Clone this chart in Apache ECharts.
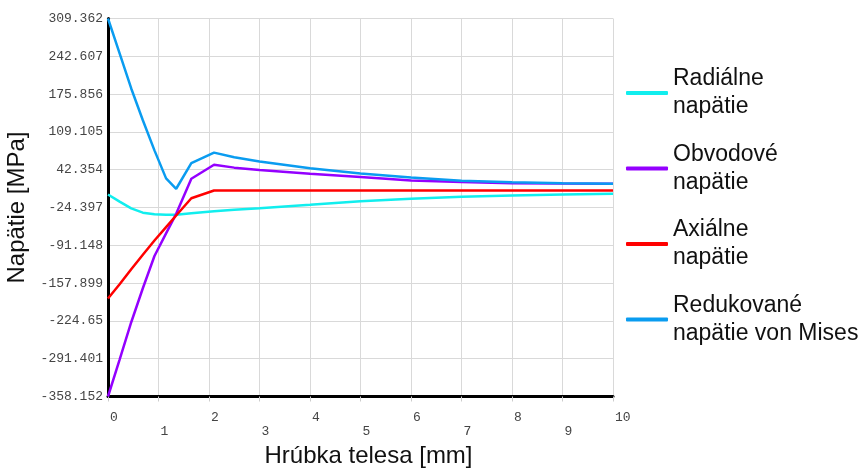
<!DOCTYPE html>
<html>
<head>
<meta charset="utf-8">
<script src="https://cdn.jsdelivr.net/npm/echarts@6/dist/echarts.min.js"></script>
<style>html,body{margin:0;padding:0;background:#fff;}#c{width:865px;height:468px;}</style>
</head>
<body>
<div id="c"></div>
<script>
var xs = [0, 0.23, 0.46, 0.69, 0.92, 1.15, 1.35, 1.65, 2.1, 2.5, 3, 4, 5, 6, 7, 8, 9, 10];
var radial = [-1.4, -14, -26, -33.5, -36.5, -37.3, -37.3, -34.5, -31, -28.5, -25.6, -19.6, -13.2, -8.8, -5.6, -3.4, -1.5, 0];
var hoop = [-358.152, -293, -227, -167, -110, -70, -35.6, 26.4, 51, 46, 42, 35, 29.3, 23.5, 20.5, 18.6, 18, 17.6];
var axial = [-185, -160, -133.5, -107.9, -82.7, -59.1, -38.6, -8, 5.7, 5.7, 5.7, 5.7, 5.7, 5.7, 5.7, 5.7, 5.7, 5.7];
var mises = [309.362, 247.8, 185.8, 129.7, 76.5, 27, 8.7, 54, 72.5, 64.5, 57, 45, 35.5, 28.5, 23, 20, 18.5, 17.6];
var yTicks = [-358.152, -291.401, -224.65, -157.899, -91.148, -24.397, 42.354, 109.105, 175.856, 242.607, 309.362];
var names = ['Radiálne napätie', 'Obvodové napätie', 'Axiálne napätie', 'Redukované napätie von Mises'];
var legendLabels = ['Radiálne\nnapätie', 'Obvodové\nnapätie', 'Axiálne\nnapätie', 'Redukované\nnapätie von Mises'];
var colors = ['#11eeee', '#9400ff', '#ff0000', '#0a9cf0'];
var xTitle = 'Hrúbka telesa [mm]';
var yTitle = 'Napätie [MPa]';

function pairs(ys) { return xs.map(function (x, i) { return [x, ys[i]]; }); }
var seriesData = [radial, hoop, axial, mises];

var chart = echarts.init(document.getElementById('c'));
chart.setOption({
  animation: false,
  backgroundColor: '#fff',
  grid: { left: 108, right: 252, top: 18.5, bottom: 71.5, containLabel: false, outerBoundsMode: 'none' },
  legend: {
    orient: 'vertical', left: 621, top: 60,
    itemWidth: 42, itemHeight: 4, itemGap: 19.5,
    icon: 'roundRect',
    data: names,
    formatter: function (n) { return legendLabels[names.indexOf(n)]; },
    textStyle: { fontFamily: 'Liberation Sans, Arial, sans-serif', fontSize: 23, lineHeight: 28, color: '#111' }
  },
  xAxis: {
    type: 'value', min: 0, max: 10, interval: 1,
    name: xTitle, nameLocation: 'middle', nameGap: 48,
    nameTextStyle: { fontFamily: 'Liberation Sans, Arial, sans-serif', fontSize: 24, color: '#111', padding: [0, 0, 0, 16] },
    axisLine: { show: true, onZero: false, lineStyle: { color: '#000', width: 3 } },
    axisTick: { show: true, length: 5, lineStyle: { color: '#ccc' } },
    splitLine: { show: true, lineStyle: { color: '#d9d9d9', width: 1 } },
    axisLabel: {
      align: 'left', margin: 14, showMaxLabel: true, showMinLabel: true,
      fontFamily: 'Liberation Mono, monospace', fontSize: 13, lineHeight: 14, color: '#444',
      padding: [0, 0, 0, 2],
      formatter: function (v) { return (Math.round(v) % 2 === 1) ? '\n' + v : String(v); }
    }
  },
  yAxis: {
    type: 'value', min: yTicks[0], max: yTicks[yTicks.length - 1],
    name: yTitle, nameLocation: 'middle', nameGap: 8, nameRotate: 90,
    nameTextStyle: { fontFamily: 'Liberation Sans, Arial, sans-serif', fontSize: 24, color: '#111' },
    axisLine: { show: true, lineStyle: { color: '#000', width: 3 } },
    axisTick: { show: false, customValues: yTicks },
    splitLine: { show: true, lineStyle: { color: '#d9d9d9', width: 1 } },
    axisLabel: {
      customValues: yTicks, margin: 5,
      fontFamily: 'Liberation Mono, monospace', fontSize: 13, color: '#444',
      formatter: function (v) { return String(+v.toFixed(3)); }
    }
  },
  series: names.map(function (n, i) {
    return {
      name: n, type: 'line', data: pairs(seriesData[i]),
      symbol: 'none', smooth: false,
      lineStyle: { color: colors[i], width: 2.5 },
      itemStyle: { color: colors[i] }
    };
  })
});
</script>
</body>
</html>
